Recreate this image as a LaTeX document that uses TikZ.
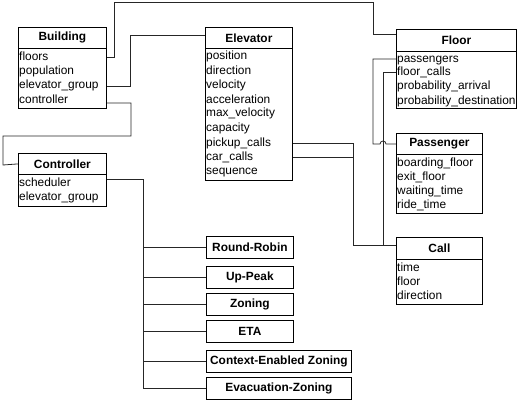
\documentclass[tikz,border=0pt]{standalone}
\usepackage{fontspec}
\setmainfont{Liberation Sans}
\usetikzlibrary{calc}
\begin{document}
\begin{tikzpicture}[x=1pt,y=-1pt,
  font=\fontsize{11.9}{14}\selectfont,
  boxline/.style={draw=black,line width=0.8pt},
  hdr/.style={boxline,anchor=north west,inner sep=0pt,font=\fontsize{11.9}{14}\selectfont\bfseries},
  bodybox/.style={boxline,anchor=north west,inner sep=0pt},
  attr/.style={anchor=base west,inner sep=0pt,text=black},
  strat/.style={boxline,anchor=west,inner sep=0pt,minimum height=22pt,font=\fontsize{11.9}{14}\selectfont\bfseries},
  conn/.style={draw=black!85,line width=0.8pt}]
\useasboundingbox (0,0) rectangle (524,401);

% ---------- Building ----------
\node[hdr,minimum width=88pt,minimum height=21pt] (building) at (18,27) {Building};
\node[bodybox,minimum width=88pt,minimum height=60pt] (buildingbody) at (18,48) {};
\node[attr] (b1) at (19,61) {floors};
\node[attr] (b2) at (19,75) {population};
\node[attr] (b3) at (19,89) {elevator\_group};
\node[attr] (b4) at (19,103) {controller};

% ---------- Elevator ----------
\node[hdr,minimum width=87pt,minimum height=21pt] (elevator) at (205,27) {Elevator};
\node[bodybox,minimum width=87pt,minimum height=132pt] (elevatorbody) at (205,48) {};
\node[attr] (e1) at (206,60) {position};
\node[attr] (e2) at (206,75) {direction};
\node[attr] (e3) at (206,89) {velocity};
\node[attr] (e4) at (206,103) {acceleration};
\node[attr] (e5) at (206,117) {max\_velocity};
\node[attr] (e6) at (206,131) {capacity};
\node[attr] (e7) at (206,146) {pickup\_calls};
\node[attr] (e8) at (206,160) {car\_calls};
\node[attr] (e9) at (206,174) {sequence};

% ---------- Floor ----------
\node[hdr,minimum width=120pt,minimum height=22pt] (floor) at (396,29) {Floor};
\node[bodybox,minimum width=120pt,minimum height=57pt] (floorbody) at (396,51) {};
\node[attr] (f1) at (397,63) {passengers};
\node[attr] (f2) at (397,76) {floor\_calls};
\node[attr] (f3) at (397,90) {probability\_arrival};
\node[attr] (f4) at (397,104) {probability\_destination};

% ---------- Passenger ----------
\node[hdr,minimum width=86pt,minimum height=21pt] (passenger) at (396,133) {Passenger};
\node[bodybox,minimum width=86pt,minimum height=59pt] (passengerbody) at (396,154) {};
\node[attr] (p1) at (397,166) {boarding\_floor};
\node[attr] (p2) at (397,180) {exit\_floor};
\node[attr] (p3) at (397,194) {waiting\_time};
\node[attr] (p4) at (397,208) {ride\_time};

% ---------- Call ----------
\node[hdr,minimum width=86pt,minimum height=22pt] (call) at (396,237) {Call};
\node[bodybox,minimum width=86pt,minimum height=45pt] (callbody) at (396,259) {};
\node[attr] (c1) at (397,271) {time};
\node[attr] (c2) at (397,285) {floor};
\node[attr] (c3) at (397,299) {direction};

% ---------- Controller ----------
\node[hdr,minimum width=88pt,minimum height=21pt] (controller) at (18,153) {Controller};
\node[bodybox,minimum width=88pt,minimum height=32pt] (controllerbody) at (18,174) {};
\node[attr] (k1) at (19,186) {scheduler};
\node[attr] (k2) at (19,200) {elevator\_group};

% ---------- Strategies ----------
\node[strat,minimum width=87pt] (rr) at (206,247.5) {Round-Robin};
\node[strat,minimum width=87pt] (up) at (206,277) {Up-Peak};
\node[strat,minimum width=87pt] (zon) at (206,304) {Zoning};
\node[strat,minimum width=87pt] (eta) at (206,331) {ETA};
\node[strat,minimum width=145pt] (cez) at (206,361) {Context-Enabled Zoning};
\node[strat,minimum width=145pt] (evz) at (206,388) {Evacuation-Zoning};

% ---------- Connectors ----------
\draw[conn] (buildingbody.east |- 0,57) -- (114,57) -- (114,2) -- (373,2) -- (373,34) -- ($(floor.north west)+(0,5)$);
\draw[conn] (buildingbody.east |- 0,86) -- (130,86) -- (130,35) -- ($(elevator.north west)+(0,8)$);
\draw[conn] (buildingbody.east |- 0,103) -- (131,103) -- (131,136) -- (3,136) -- (3,165) -- (controller.west);
\draw[conn] (controllerbody.east |- 0,179) -- (143,179) -- (143,388) -- (evz.west);
\foreach \s in {rr,up,zon,eta,cez}{\draw[conn] (143,0 |- \s.west) -- (\s.west);}
\draw[conn] (elevatorbody.east |- 0,143) -- (353,143) -- (353,245) -- ($(call.north west)+(0,8)$);
\draw[conn] (elevatorbody.east |- 0,157) -- (353,157);
\draw[conn] (floorbody.west |- 0,59) -- (373,59) -- (373,144) -- (380,144) arc[start angle=180,end angle=0,radius=3pt] -- (passenger.west |- 0,144);
\draw[conn] (floorbody.west |- 0,72) -- (383,72) -- (383,245);
\end{tikzpicture}
\end{document}
